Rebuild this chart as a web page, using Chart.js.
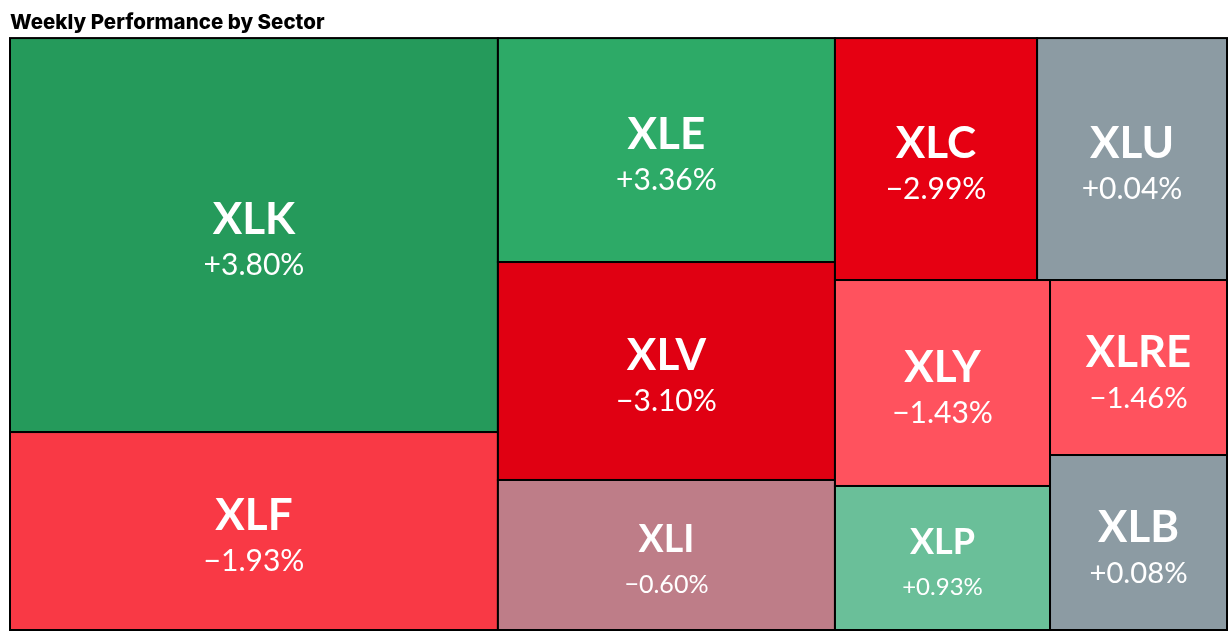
<!DOCTYPE html>
<html>
<head>
<meta charset="utf-8">
<script src="https://cdn.jsdelivr.net/npm/chart.js@4.4.1/dist/chart.umd.min.js"></script>
<style>
  html, body { margin: 0; padding: 0; background: #fff; }
  #wrap { width: 1232px; height: 636px; }
</style>
</head>
<body>
<div id="wrap"><canvas id="sectorMap"></canvas></div>
<script>
const tickers = ['XLK', 'XLF', 'XLE', 'XLV', 'XLI', 'XLC', 'XLU', 'XLY', 'XLP', 'XLRE', 'XLB'];
const weights = [26.69, 13.41, 10.48, 10.20, 7.02, 6.79, 6.38, 6.15, 4.30, 4.30, 4.30];
const changes = [3.80, -1.93, 3.36, -3.10, -0.60, -2.99, 0.04, -1.43, 0.93, -1.46, 0.08];
// how many cells go in each strip of the treemap
const strips = [2, 3, 2, 2, 1, 1];
const colors = ['#259a5b', '#f93945', '#2daa67', '#e00012', '#be7d88', '#e60012',
                '#8c9ba3', '#ff525e', '#6abf99', '#ff525e', '#8c9ba3'];

// strip layout in pixel space, returned as 0..1 fractions
function layout(w, h) {
  const total = weights.reduce((a, b) => a + b, 0);
  let x = 0, y = 0, rw = w, rh = h, i = 0;
  const rects = [];
  strips.forEach(n => {
    const vals = weights.slice(i, i + n);
    const s = vals.reduce((a, b) => a + b, 0);
    const area = s / total * w * h;
    if (rw >= rh) {
      const sw = area / rh;
      let yy = y;
      vals.forEach(v => {
        const ih = v / s * rh;
        rects.push([x, yy, x + sw, yy + ih]);
        yy += ih;
      });
      x += sw; rw -= sw;
    } else {
      const sh = area / rw;
      let xx = x;
      vals.forEach(v => {
        const iw = v / s * rw;
        rects.push([xx, y, xx + iw, y + sh]);
        xx += iw;
      });
      y += sh; rh -= sh;
    }
    i += n;
  });
  return rects.map(r => [r[0] / w, r[1] / h, r[2] / w, r[3] / h]);
}

function fmt(v) {
  return (v < 0 ? '\u2212' : '+') + Math.abs(v).toFixed(2) + '%';
}

const treemapPlugin = {
  id: 'treemap',
  afterDatasetsDraw(chart) {
    const { ctx, chartArea, scales: { x, y } } = chart;
    const cells = layout(chartArea.width, chartArea.height);
    ctx.save();
    cells.forEach((c, i) => {
      const x0 = x.getPixelForValue(c[0]), x1 = x.getPixelForValue(c[2]);
      const y0 = y.getPixelForValue(c[1]), y1 = y.getPixelForValue(c[3]);
      ctx.fillStyle = colors[i];
      ctx.fillRect(x0, y0, x1 - x0, y1 - y0);
      ctx.lineWidth = 2;
      ctx.strokeStyle = '#000';
      ctx.strokeRect(x0, y0, x1 - x0, y1 - y0);

      const h = y1 - y0;
      const size = Math.min(44, h * 0.25);
      const vsize = Math.min(30, h * 0.167);
      const cap = size * 0.72;
      const cx = (x0 + x1) / 2, cy = (y0 + y1) / 2;
      const base = cy + 4 - (41 - cap) / 2;
      ctx.fillStyle = '#fff';
      ctx.textAlign = 'center';
      ctx.textBaseline = 'alphabetic';
      ctx.font = `bold ${size}px Lato`;
      ctx.fillText(tickers[i], cx, base);
      ctx.font = `${vsize}px Lato`;
      ctx.fillText(fmt(changes[i]), cx, base + 41);
    });
    ctx.restore();
  }
};

new Chart(document.getElementById('sectorMap'), {
  type: 'scatter',
  data: { datasets: [{ data: [] }] },
  options: {
    responsive: true,
    maintainAspectRatio: false,
    animation: false,
    layout: { padding: { left: 10, right: 5, bottom: 6, top: 0 } },
    scales: {
      x: { type: 'linear', min: 0, max: 1, display: false },
      y: { type: 'linear', min: 0, max: 1, reverse: true, display: false }
    },
    plugins: {
      legend: { display: false },
      tooltip: { enabled: false },
      title: {
        display: true,
        text: 'Weekly Performance by Sector',
        align: 'start',
        color: '#000',
        font: { family: 'Inter', size: 20.5, weight: 800, lineHeight: 1.15 },
        padding: { top: 11, bottom: 3.5 }
      }
    }
  },
  plugins: [treemapPlugin]
});
</script>
</body>
</html>
